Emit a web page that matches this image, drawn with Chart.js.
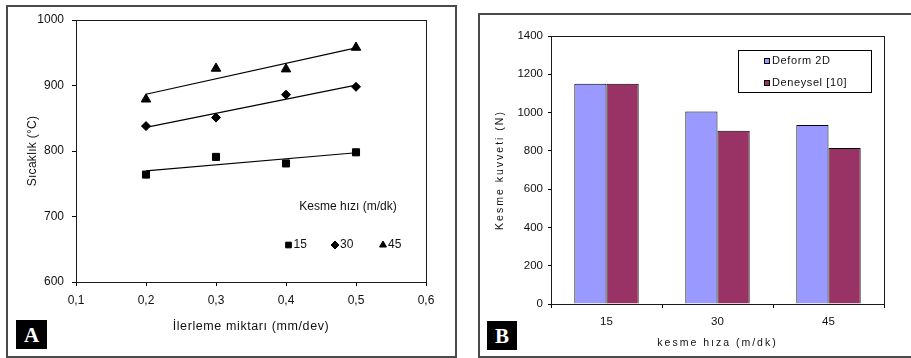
<!DOCTYPE html>
<html>
<head>
<meta charset="utf-8">
<title>Sıcaklık ve kesme kuvveti</title>
<script src="https://cdn.jsdelivr.net/npm/chart.js@4/dist/chart.umd.min.js"></script>
<style>
  html, body { margin: 0; padding: 0; background: #fff; width: 911px; height: 358px; overflow: hidden; }
  canvas { position: absolute; top: 0; }
  #chartA { left: 0; }
  #chartB { left: 458px; }
  .frame { position: absolute; border: 2px solid #4a4a4a; box-sizing: border-box; pointer-events: none; }
  .tag { position: absolute; background: #000; color: #fff; font: bold 21px "Liberation Serif", serif;
         text-align: center; box-sizing: border-box; }
</style>
</head>
<body>
<div class="frame" style="left:6px;top:5px;width:451px;height:353px"></div>
<div class="frame" style="left:478px;top:13px;width:440px;height:345px"></div>
<canvas id="chartA" width="458" height="358"></canvas>
<canvas id="chartB" width="453" height="358"></canvas>
<div class="tag" style="left:16px;top:320px;width:31px;height:29px;line-height:30px">A</div>
<div class="tag" style="left:487px;top:321px;width:30px;height:29px;line-height:30px">B</div>
<script>
// ---- Panel A: temperature vs feed rate, one series per cutting speed ----
const feedRates = [0.2, 0.3, 0.4, 0.5];
const speedLabels = ['15', '30', '45'];
const temp15 = [764, 791, 781, 798];
const temp30 = [838, 851, 886, 898];
const temp45 = [879, 926, 925, 958];
const feedTickLabels = ['0,1', '0,2', '0,3', '0,4', '0,5', '0,6'];
const tempTickLabels = ['600', '700', '800', '900', '1000'];

// ---- Panel B: cutting force, simulation vs experiment ----
const speedCategories = ['15', '30', '45'];
const forceDeform = [1150, 1005, 935];
const forceDeneysel = [1150, 905, 815];
const forceTickLabels = ['0', '200', '400', '600', '800', '1000', '1200', '1400'];
const forceSeriesNames = ['Deform 2D', 'Deneysel [10]'];

const FONT = '"Liberation Sans", Arial, sans-serif';
const INK = '#111';

// least-squares straight line through a series, spanning its x range
function fitLine(xs, ys) {
  const n = xs.length;
  const mx = xs.reduce((s, v) => s + v, 0) / n;
  const my = ys.reduce((s, v) => s + v, 0) / n;
  let sxy = 0, sxx = 0;
  xs.forEach((x, i) => { sxy += (x - mx) * (ys[i] - my); sxx += (x - mx) * (x - mx); });
  const b = sxy / sxx, a = my - b * mx;
  return [{ x: xs[0], y: a + b * xs[0] }, { x: xs[n - 1], y: a + b * xs[n - 1] }];
}
const pts = ys => feedRates.map((x, i) => ({ x, y: ys[i] }));

// frame round the plotting area
const plotFrame = {
  id: 'plotFrame',
  afterDatasetsDraw(chart) {
    const { ctx, chartArea: { left, top, right, bottom } } = chart;
    ctx.save();
    ctx.strokeStyle = '#1a1a1a';
    ctx.lineWidth = 1;
    ctx.strokeRect(Math.round(left) + 0.5, Math.round(top) + 0.5,
                   Math.round(right - left), Math.round(bottom - top));
    ctx.restore();
  }
};

function drawText(ctx, text, x, y, opts = {}) {
  ctx.save();
  ctx.font = opts.font || ('12px ' + FONT);
  ctx.fillStyle = INK;
  ctx.textAlign = opts.align || 'center';
  ctx.textBaseline = 'middle';
  if (opts.spacing) ctx.letterSpacing = opts.spacing + 'px';
  ctx.translate(x, y);
  if (opts.rotate) ctx.rotate(opts.rotate);
  ctx.fillText(text, 0, 0);
  ctx.restore();
}

// axis titles and the in-plot legend for panel A
const decorA = {
  id: 'decorA',
  afterDraw(chart) {
    const { ctx, chartArea: ca } = chart;
    drawText(ctx, 'İlerleme miktarı (mm/dev)', (ca.left + ca.right) / 2, ca.bottom + 45,
             { font: '12.5px ' + FONT, spacing: 0.6 });
    drawText(ctx, 'Sıcaklık (°C)', ca.left - 43, (ca.top + ca.bottom) / 2,
             { font: '12px ' + FONT, rotate: -Math.PI / 2, spacing: 0.3 });
    drawText(ctx, 'Kesme hızı (m/dk)', ca.right - 78, 207, { font: '12px ' + FONT });
    const styles = ['rect', 'rectRot', 'triangle'];
    const mx = [ca.right - 137.5, ca.right - 91, ca.right - 43];
    speedLabels.forEach((lab, i) => {
      Chart.helpers.drawPoint(ctx, { pointStyle: styles[i], radius: i === 0 ? 4 : 4, borderWidth: 1 }, mx[i], 245);
      drawText(ctx, lab, mx[i] + 5, 245, { align: 'left', font: '12px ' + FONT });
    });
  }
};

const markerCommon = { showLine: false, borderColor: '#000', backgroundColor: '#000', pointBorderWidth: 1 };
const trendCommon = { showLine: true, pointRadius: 0, borderColor: '#000', borderWidth: 1.2, fill: false, order: 5 };

new Chart(document.getElementById('chartA'), {
  type: 'scatter',
  data: {
    datasets: [
      { ...markerCommon, label: speedLabels[0], data: pts(temp15), pointStyle: 'rect', pointRadius: 5 },
      { ...markerCommon, label: speedLabels[1], data: pts(temp30), pointStyle: 'rectRot', pointRadius: 4.5 },
      { ...markerCommon, label: speedLabels[2], data: pts(temp45), pointStyle: 'triangle', pointRadius: 5.5 },
      { ...trendCommon, data: fitLine(feedRates, temp15) },
      { ...trendCommon, data: fitLine(feedRates, temp30) },
      { ...trendCommon, data: fitLine(feedRates, temp45) }
    ]
  },
  options: {
    responsive: false,
    animation: false,
    devicePixelRatio: 1,
    layout: { padding: { left: 0, top: 20, right: 32, bottom: 0 } },
    plugins: { legend: { display: false }, tooltip: { enabled: false } },
    scales: {
      x: {
        type: 'linear', min: 0.1, max: 0.6,
        afterFit: s => { s.height = 76; },
        afterBuildTicks: s => { s.ticks = feedTickLabels.map((_, i) => ({ value: 0.1 + i * 0.1 })); },
        ticks: { callback: (v, i) => feedTickLabels[i], color: INK, font: { family: FONT, size: 12 }, padding: 7, maxRotation: 0 },
        grid: { drawOnChartArea: false, drawTicks: true, tickLength: 4, color: '#000' },
        border: { display: false }
      },
      y: {
        min: 600, max: 1000,
        afterFit: s => { s.width = 76; },
        afterBuildTicks: s => { s.ticks = tempTickLabels.map(t => ({ value: Number(t) })); },
        ticks: { callback: (v, i) => tempTickLabels[i], color: INK, font: { family: FONT, size: 12 }, padding: 8 },
        grid: { drawOnChartArea: false, drawTicks: true, tickLength: 4, color: '#000' },
        border: { display: false }
      }
    }
  },
  plugins: [plotFrame, decorA]
});

// axis titles and boxed legend for panel B
const decorB = {
  id: 'decorB',
  afterDraw(chart) {
    const { ctx, chartArea: ca } = chart;
    drawText(ctx, 'kesme hıza (m/dk)', (ca.left + ca.right) / 2, ca.bottom + 39,
             { font: '10.5px ' + FONT, spacing: 2 });
    drawText(ctx, 'Kesme kuvveti (N)', ca.left - 51, (ca.top + ca.bottom) / 2,
             { font: '10.5px ' + FONT, rotate: -Math.PI / 2, spacing: 2 });
    // legend box
    const bx = Math.round(ca.right - 146), by = Math.round(ca.top + 14), bw = 133, bh = 42;
    ctx.save();
    ctx.fillStyle = '#fff';
    ctx.fillRect(bx, by, bw, bh);
    ctx.strokeStyle = '#000';
    ctx.lineWidth = 1;
    ctx.strokeRect(bx + 0.5, by + 0.5, bw, bh);
    const fills = chart.data.datasets.map(d => d.backgroundColor);
    forceSeriesNames.forEach((name, i) => {
      const y = by + 11 + i * 22;
      ctx.fillStyle = fills[i];
      ctx.fillRect(bx + 26, y - 3, 6, 6);
      ctx.strokeRect(bx + 26.5, y - 2.5, 5, 5);
      drawText(ctx, name, bx + 34, y, { align: 'left', font: '11px ' + FONT, spacing: 0.6 });
    });
    ctx.restore();
  }
};

new Chart(document.getElementById('chartB'), {
  type: 'bar',
  data: {
    labels: speedCategories,
    datasets: [
      { label: forceSeriesNames[0], data: forceDeform, backgroundColor: '#9999ff', borderColor: '#000', borderWidth: 1 },
      { label: forceSeriesNames[1], data: forceDeneysel, backgroundColor: '#993366', borderColor: '#000', borderWidth: 1 }
    ]
  },
  options: {
    responsive: false,
    animation: false,
    devicePixelRatio: 1,
    layout: { padding: { left: 0, top: 36, right: 27, bottom: 0 } },
    datasets: { bar: { categoryPercentage: 0.58, barPercentage: 1.0 } },
    plugins: { legend: { display: false }, tooltip: { enabled: false } },
    scales: {
      x: {
        afterFit: s => { s.height = 54; },
        ticks: { color: INK, font: { family: FONT, size: 11.5 }, padding: 7 },
        grid: { offset: true, drawOnChartArea: false, drawTicks: true, tickLength: 4, color: '#000' },
        border: { display: false }
      },
      y: {
        min: 0, max: 1400,
        afterFit: s => { s.width = 93; },
        afterBuildTicks: s => { s.ticks = forceTickLabels.map(t => ({ value: Number(t) })); },
        ticks: { callback: (v, i) => forceTickLabels[i], color: INK, font: { family: FONT, size: 11.5 }, padding: 5 },
        grid: { drawOnChartArea: false, drawTicks: true, tickLength: 3, color: '#000' },
        border: { display: false }
      }
    }
  },
  plugins: [plotFrame, decorB]
});
</script>
</body>
</html>
